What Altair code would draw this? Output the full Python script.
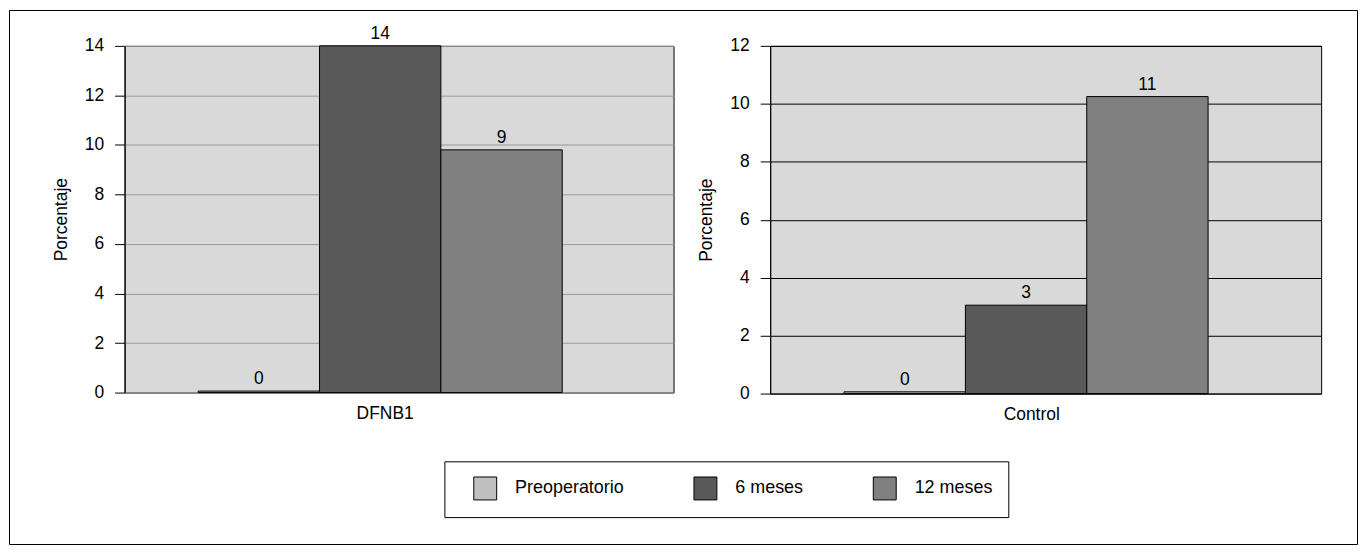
import altair as alt
import pandas as pd

series = ["Preoperatorio", "6 meses", "12 meses"]
colors = ["#c0c0c0", "#595959", "#808080"]

dfnb1_values = [0.06, 14.0, 9.8]
dfnb1_labels = ["0", "14", "9"]
control_values = [0.06, 3.05, 10.25]
control_labels = ["0", "3", "11"]

FONT = "Liberation Sans"

legend = alt.Legend(
    title=None, orient="none", legendX=321, legendY=417, direction="horizontal",
    symbolType="square", symbolSize=529, symbolStrokeColor="black", symbolStrokeWidth=1,
    symbolOffset=14, labelOffset=18, labelFontSize=18, labelFont=FONT, labelColor="black",
    columnPadding=55, padding=15, strokeColor="black", fillColor="white",
)

# outer figure frame, drawn as the (invisible) box of the label-colour legend
frame = alt.Legend(
    title=None, orient="none", legendX=-116, legendY=-36, direction="horizontal",
    gradientLength=1353, gradientThickness=535, gradientOpacity=0, gradientStrokeWidth=0,
    labelOpacity=0, labelFontSize=1, labelOffset=0, padding=0, strokeColor="black",
)


def panel(group, values, labels, ymax, grid_color, w, h):
    df = pd.DataFrame({"grupo": group, "serie": series, "valor": values, "etiqueta": labels})
    x = alt.X(
        "grupo:N", title=None,
        scale=alt.Scale(paddingInner=0, paddingOuter=0.254, align=0.398),
        axis=alt.Axis(ticks=False, tickSize=0, domain=False, labelAngle=0, labelFontSize=17.5,
                      labelPadding=12, labelOffset=5, labelColor="black", labelFont=FONT),
    )
    xo = alt.XOffset("serie:N", scale=alt.Scale(domain=series, paddingInner=0, paddingOuter=0))
    y = alt.Y(
        "valor:Q", title="Porcentaje",
        scale=alt.Scale(domain=[0, ymax], nice=False),
        axis=alt.Axis(values=list(range(0, ymax + 1, 2)), tickSize=10, tickColor="black",
                      domain=True, domainColor="black", labelPadding=11, labelFontSize=17.5,
                      labelFont=FONT, labelColor="black", grid=True, gridColor=grid_color,
                      gridOpacity=1, gridWidth=1, titleFontSize=17.5, titleFontWeight="normal",
                      titleFont=FONT, titleColor="black", titlePadding=14),
    )
    bars = alt.Chart(df).mark_bar(stroke="black", strokeWidth=1).encode(
        x=x, xOffset=xo, y=y,
        color=alt.Color("serie:N", scale=alt.Scale(domain=series, range=colors), legend=legend),
    )
    text = alt.Chart(df).mark_text(
        dy=-7, baseline="alphabetic", fontSize=17.5, font=FONT
    ).encode(
        x=alt.X("grupo:N"), xOffset=alt.XOffset("serie:N"), y=alt.Y("valor:Q"),
        text="etiqueta:N",
        fill=alt.Fill("valor:Q", scale=alt.Scale(range=["black", "black"]), legend=frame),
    )
    return alt.layer(bars, text).properties(width=w, height=h)


left = panel("DFNB1", dfnb1_values, dfnb1_labels, 14, "#999999", 551, 348)
right = panel("Control", control_values, control_labels, 12, "black", 553, 349)

chart = alt.hconcat(left, right, spacing=23).properties(
    padding={"left": 0, "top": 0, "right": 0, "bottom": 0},
    background="white",
).configure(font=FONT).configure_view(stroke="black", strokeWidth=1, fill="#d9d9d9")

chart.save("out.html", embed_options={"renderer": "svg", "actions": False})
